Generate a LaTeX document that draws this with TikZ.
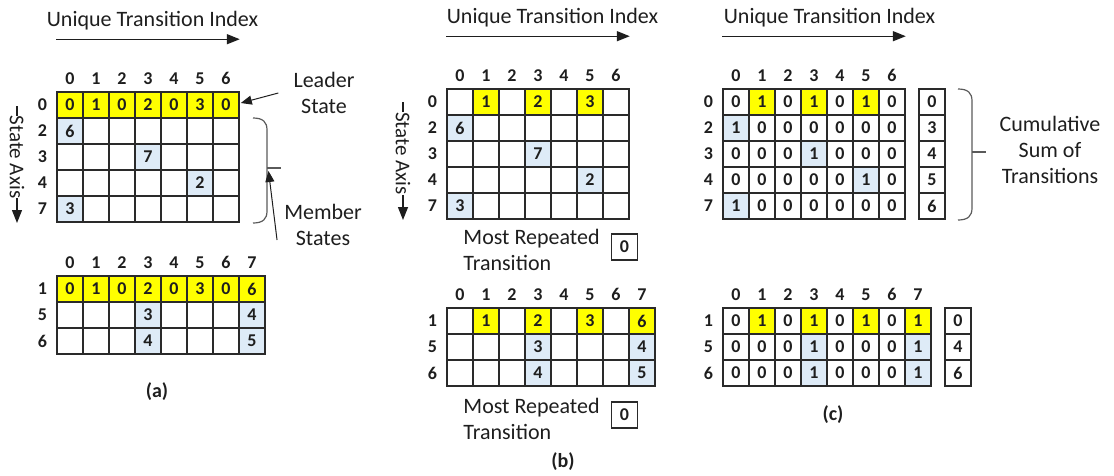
\documentclass[tikz,border=0pt]{standalone}
\usepackage{fontspec}
\setmainfont{Carlito}
\usetikzlibrary{
	arrows.meta,
	positioning
}

\definecolor{Y}{HTML}{FFFF00}
\definecolor{B}{HTML}{DEEBF7}
\colorlet{W}{white}
\definecolor{ink}{HTML}{1E1E1E}
\definecolor{gridline}{HTML}{2A2A2A}
\definecolor{bracecol}{HTML}{5A5A5A}

\newcommand{\lblfont}{\fontsize{22}{26}\selectfont}
\newcommand{\numfont}{\fontsize{18}{21}\selectfont\bfseries}
\newcommand{\capfont}{\fontsize{20}{24}\selectfont\bfseries}

% cell pitch of the tables
\def\csz{26}

% one table row: prefix, state, centre of the first cell, fill/value pairs
\newcommand{\cellrow}[5]{%
	\foreach \f/\v [count=\c from 0] in {#5}
		\node[cell, fill=\f] (#1-\c) at ({#3+\c*\csz},#4) {\v};
	\node[rowlab, left=9pt of #1-0] {#2};
}
% transition indices above a row
\newcommand{\colheads}[2]{%
	\foreach \c in {0,...,#2}
		\node[rowlab, above=6.5pt of #1-\c] {\c};
}

\begin{document}
\begin{tikzpicture}[
				x=1pt, y=-1pt,
				every node/.style={text=ink},
				cell/.style={
					draw=gridline, line width=1.6pt,
					minimum size=26pt, inner sep=0pt,
					font=\numfont
				},
				rowlab/.style={inner sep=0pt, font=\numfont},
				lbl/.style={inner sep=0pt, font=\lblfont, align=center},
				caption/.style={inner sep=0pt, font=\capfont},
				idx/.style={line width=1.4pt, ink, -{Triangle[length=13pt,width=10pt]}},
				pointer/.style={line width=1pt, ink, -{Triangle[length=11pt,width=9pt]}},
				brace/.style={line width=1.2pt, bracecol}
				]
				\useasboundingbox (0,0) rectangle (1114,475);
				
				% (a) leader table
				\cellrow{aT0}{0}{70}{105}{Y/0,Y/1,Y/0,Y/2,Y/0,Y/3,Y/0}
				\cellrow{aT2}{2}{70}{131}{B/6,W/,W/,W/,W/,W/,W/}
				\cellrow{aT3}{3}{70}{157}{W/,W/,W/,B/7,W/,W/,W/}
				\cellrow{aT4}{4}{70}{183}{W/,W/,W/,W/,W/,B/2,W/}
				\cellrow{aT7}{7}{70}{209}{B/3,W/,W/,W/,W/,W/,W/}
				\colheads{aT0}{6}
				
				% (a) second leader
				\cellrow{aB1}{1}{70}{289}{Y/0,Y/1,Y/0,Y/2,Y/0,Y/3,Y/0,Y/6}
				\cellrow{aB5}{5}{70}{315}{W/,W/,W/,B/3,W/,W/,W/,B/4}
				\cellrow{aB6}{6}{70}{341}{W/,W/,W/,B/4,W/,W/,W/,B/5}
				\colheads{aB1}{7}
				
				% (b) leader row reduced
				\cellrow{bT0}{0}{460}{102}{W/,Y/1,W/,Y/2,W/,Y/3,W/}
				\cellrow{bT2}{2}{460}{128}{B/6,W/,W/,W/,W/,W/,W/}
				\cellrow{bT3}{3}{460}{154}{W/,W/,W/,B/7,W/,W/,W/}
				\cellrow{bT4}{4}{460}{180}{W/,W/,W/,W/,W/,B/2,W/}
				\cellrow{bT7}{7}{460}{206}{B/3,W/,W/,W/,W/,W/,W/}
				\colheads{bT0}{6}
				
				\cellrow{bB1}{1}{460}{321}{W/,Y/1,W/,Y/2,W/,Y/3,W/,Y/6}
				\cellrow{bB5}{5}{460}{347}{W/,W/,W/,B/3,W/,W/,W/,B/4}
				\cellrow{bB6}{6}{460}{373}{W/,W/,W/,B/4,W/,W/,W/,B/5}
				\colheads{bB1}{7}
				
				% (c) binary tables
				\cellrow{cT0}{0}{736}{102}{W/0,Y/1,W/0,Y/1,W/0,Y/1,W/0}
				\cellrow{cT2}{2}{736}{128}{B/1,W/0,W/0,W/0,W/0,W/0,W/0}
				\cellrow{cT3}{3}{736}{154}{W/0,W/0,W/0,B/1,W/0,W/0,W/0}
				\cellrow{cT4}{4}{736}{180}{W/0,W/0,W/0,W/0,W/0,B/1,W/0}
				\cellrow{cT7}{7}{736}{206}{B/1,W/0,W/0,W/0,W/0,W/0,W/0}
				\colheads{cT0}{6}
				
				\cellrow{cB1}{1}{736}{321}{W/0,Y/1,W/0,Y/1,W/0,Y/1,W/0,Y/1}
				\cellrow{cB5}{5}{736}{347}{W/0,W/0,W/0,B/1,W/0,W/0,W/0,B/1}
				\cellrow{cB6}{6}{736}{373}{W/0,W/0,W/0,B/1,W/0,W/0,W/0,B/1}
				\colheads{cB1}{7}
				
				% cumulative sums
				\node[cell, right=12.4pt of cT0-6] (cS0) {0};
				\node[cell] (cS2) at ([yshift=-26pt]cS0) {3};
				\node[cell] (cS3) at ([yshift=-26pt]cS2) {4};
				\node[cell] (cS4) at ([yshift=-26pt]cS3) {5};
				\node[cell] (cS7) at ([yshift=-26pt]cS4) {6};
				\node[cell, right=12.4pt of cB1-7] (cS1) {0};
				\node[cell] (cS5) at ([yshift=-26pt]cS1) {4};
				\node[cell] (cS6) at ([yshift=-26pt]cS5) {6};
				
				% axis titles
				\node[lbl] (aIdx) at (152.5,21) {Unique Transition Index};
				\node[lbl] (bIdx) at (552.5,18) {Unique Transition Index};
				\node[lbl] (cIdx) at (829.5,18) {Unique Transition Index};
				\draw[idx] ([yshift=52pt]aT0-0.north west) -- ([yshift=52pt]aT0-6.north east);
				\draw[idx] ([yshift=52pt]bT0-0.north west) -- ([yshift=52pt]bT0-6.north east);
				\draw[idx] ([yshift=52pt]cT0-0.north west) -- ([yshift=52pt]cT0-6.north east);
				
				% state axes
				\node[lbl, font=\fontsize{21}{25}\selectfont, rotate=-90] (aAxis) at (17,157) {State Axis};
				\draw[line width=1.2pt, ink] (aAxis.west) -- ++(0,-10);
				\draw[idx] (aAxis.east) -- (17,223);
				\node[lbl, font=\fontsize{21}{25}\selectfont, rotate=-90] (bAxis) at (403,153.5) {State Axis};
				\draw[line width=1.2pt, ink] (bAxis.west) -- ++(0,-10);
				\draw[idx] (bAxis.east) -- (403,220);
				
				% leader / member notes
				\node[lbl] (leader) at (324,93) {Leader\\State};
				\draw[pointer] ([xshift=-15pt]leader.west) -- ([xshift=1pt,yshift=2pt]aT0-6.east);
				
				\coordinate (aBrT) at (253,118);
				\coordinate (aBrB) at (253,223);
				\draw[brace] (aBrT) .. controls +(10,0) and +(0,-8) .. ++(14,12)
					-- ([shift={(14,-12)}]aBrB) .. controls +(0,8) and +(10,0) .. (aBrB);
				\coordinate (aTick) at (267,168);
				\draw[brace] (aTick) -- ++(14,0);
				
				\node[lbl] (member) at (323,225) {Member\\States};
				\draw[pointer] ([xshift=-7pt,yshift=-15pt]member.west) -- ([xshift=1.5pt,yshift=-3pt]aTick);
				
				% most repeated transition
				\node[lbl, align=left] (bRepT) at (531.5,250) {Most Repeated\\Transition};
				\node[cell, right=11pt of bRepT, yshift=3pt] (bRepTv) {0};
				\node[lbl, align=left] (bRepB) at (531.5,419) {Most Repeated\\Transition};
				\node[cell, right=11pt of bRepB, yshift=4pt] (bRepBv) {0};
				
				% brace round the sums
				\coordinate (cBrT) at (958,89);
				\coordinate (cBrB) at (958,220);
				\draw[brace] (cBrT) .. controls +(10,0) and +(0,-8) .. ++(14,12)
					-- ([shift={(14,-12)}]cBrB) .. controls +(0,8) and +(10,0) .. (cBrB);
				\draw[brace] (972,152) -- (986,152);
				\node[lbl] (cumsum) at (1050,150) {Cumulative\\Sum of\\Transitions};
				
				% captions
				\node[caption] (capA) at (157,392) {(a)};
				\node[caption] (capB) at (563,462) {(b)};
				\node[caption] (capC) at (833,415) {(c)};
			\end{tikzpicture}
\end{document}
